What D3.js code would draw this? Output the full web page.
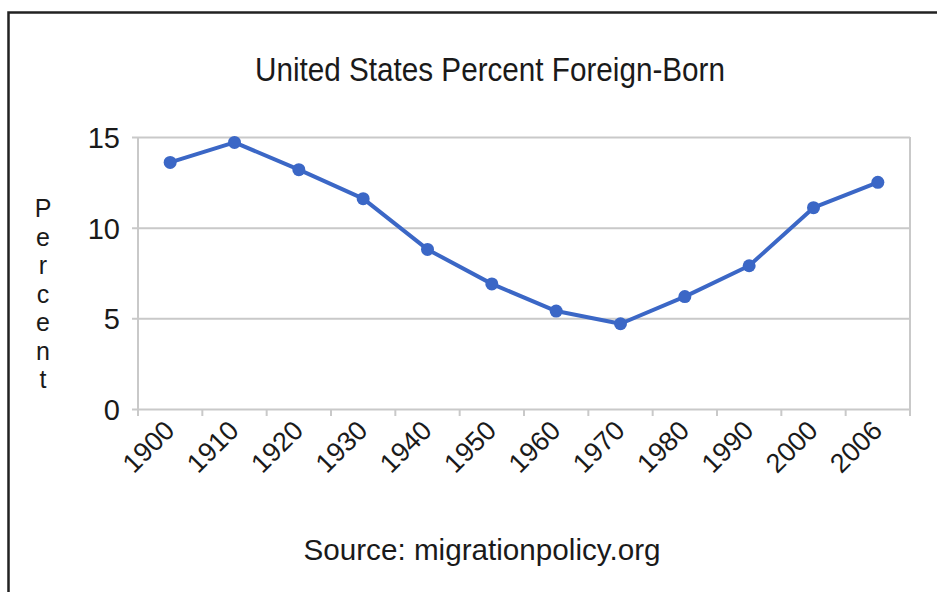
<!DOCTYPE html>
<html>
<head>
<meta charset="utf-8">
<script src="https://cdn.jsdelivr.net/npm/d3@7"></script>
<style>
  body { margin: 0; background: #fff; }
  text { font-family: "Liberation Sans", Arial, sans-serif; fill: #1a1a1a; }
</style>
</head>
<body>
<svg id="chart" width="937" height="592"></svg>
<script>
(function(){
    var years = ['1900','1910','1920','1930','1940','1950','1960','1970','1980','1990','2000','2006'];
    var percent = [13.6, 14.7, 13.2, 11.6, 8.8, 6.9, 5.4, 4.7, 6.2, 7.9, 11.1, 12.5];
    var yTicks = [0, 5, 10, 15];

    var col = '#3b67c6',
        grid = '#c9c9c9';

    var plot = {left: 138, right: 910, top: 137, bottom: 409};

    var svg = d3.select('#chart');

    // outer frame (runs off right and bottom edge)
    svg.append('path')
        .attr('d', 'M8.5,600 L8.5,12.5 L945,12.5')
        .style('fill', 'none')
        .style('stroke', '#222')
        .style('stroke-width', 2.5);

    var x = d3.scaleBand().domain(years).range([plot.left, plot.right]);
    var y = d3.scaleLinear().domain([0, 15]).range([plot.bottom, plot.top]);

    // gridlines + y labels
    var yAxis = d3.axisLeft(y).tickValues(yTicks)
        .tickSize(-(plot.right - plot.left)).tickPadding(18);
    var gy = svg.append('g')
        .attr('transform', 'translate(' + plot.left + ',0)')
        .call(yAxis);
    gy.select('.domain').remove();
    gy.selectAll('.tick line')
        .attr('x1', -6)
        .style('stroke', grid).style('stroke-width', 2);
    gy.selectAll('.tick text')
        .style('font-size', '29px')
        .attr('dy', '0.36em');

    // left and right border of plot
    svg.append('line')
        .attr('x1', plot.right).attr('x2', plot.right)
        .attr('y1', plot.top).attr('y2', plot.bottom + 7)
        .style('stroke', grid).style('stroke-width', 2);
    svg.append('line')
        .attr('x1', plot.left).attr('x2', plot.left)
        .attr('y1', plot.top).attr('y2', plot.bottom + 7)
        .style('stroke', grid).style('stroke-width', 2);

    // x ticks at band edges
    var edges = years.map(function(d){ return x(d); }).slice(1);
    svg.selectAll('.xtick').data(edges).enter().append('line')
        .attr('class', 'xtick')
        .attr('x1', function(d){ return d; }).attr('x2', function(d){ return d; })
        .attr('y1', plot.bottom).attr('y2', plot.bottom + 7)
        .style('stroke', grid).style('stroke-width', 2);

    // x labels rotated
    svg.selectAll('.xlab').data(years).enter().append('text')
        .attr('class', 'xlab')
        .attr('transform', function(d){
            var cx = x(d) + x.bandwidth() / 2 + 6;
            return 'translate(' + cx + ',' + (plot.bottom + 23) + ') rotate(-45)';
        })
        .attr('text-anchor', 'end')
        .style('font-size', '27px')
        .text(function(d){ return d; });

    // line + points
    var line = d3.line()
        .x(function(d, i){ return x(years[i]) + x.bandwidth() / 2; })
        .y(function(d){ return y(d); });

    svg.append('path')
        .datum(percent)
        .attr('d', line)
        .style('fill', 'none')
        .style('stroke', col)
        .style('stroke-width', 4)
        .style('stroke-linejoin', 'round');

    svg.selectAll('.pt').data(percent).enter().append('circle')
        .attr('class', 'pt')
        .attr('cx', function(d, i){ return x(years[i]) + x.bandwidth() / 2; })
        .attr('cy', function(d){ return y(d); })
        .attr('r', 6.5)
        .style('fill', col);

    // title
    svg.append('text')
        .attr('x', 490).attr('y', 81)
        .attr('text-anchor', 'middle')
        .attr('textLength', 470)
        .attr('lengthAdjust', 'spacingAndGlyphs')
        .style('font-size', '34px')
        .text('United States Percent Foreign-Born');

    // y label, letters stacked
    var lab = 'Percent'.split('');
    svg.selectAll('.ylab').data(lab).enter().append('text')
        .attr('class', 'ylab')
        .attr('x', 43)
        .attr('y', function(d, i){ return 217 + i * 28.5; })
        .attr('text-anchor', 'middle')
        .style('font-size', '25px')
        .text(function(d){ return d; });

    // source
    svg.append('text')
        .attr('x', 482).attr('y', 560)
        .attr('text-anchor', 'middle')
        .attr('textLength', 357)
        .attr('lengthAdjust', 'spacingAndGlyphs')
        .style('font-size', '30px')
        .text('Source: migrationpolicy.org');
})();
</script>
</body>
</html>
